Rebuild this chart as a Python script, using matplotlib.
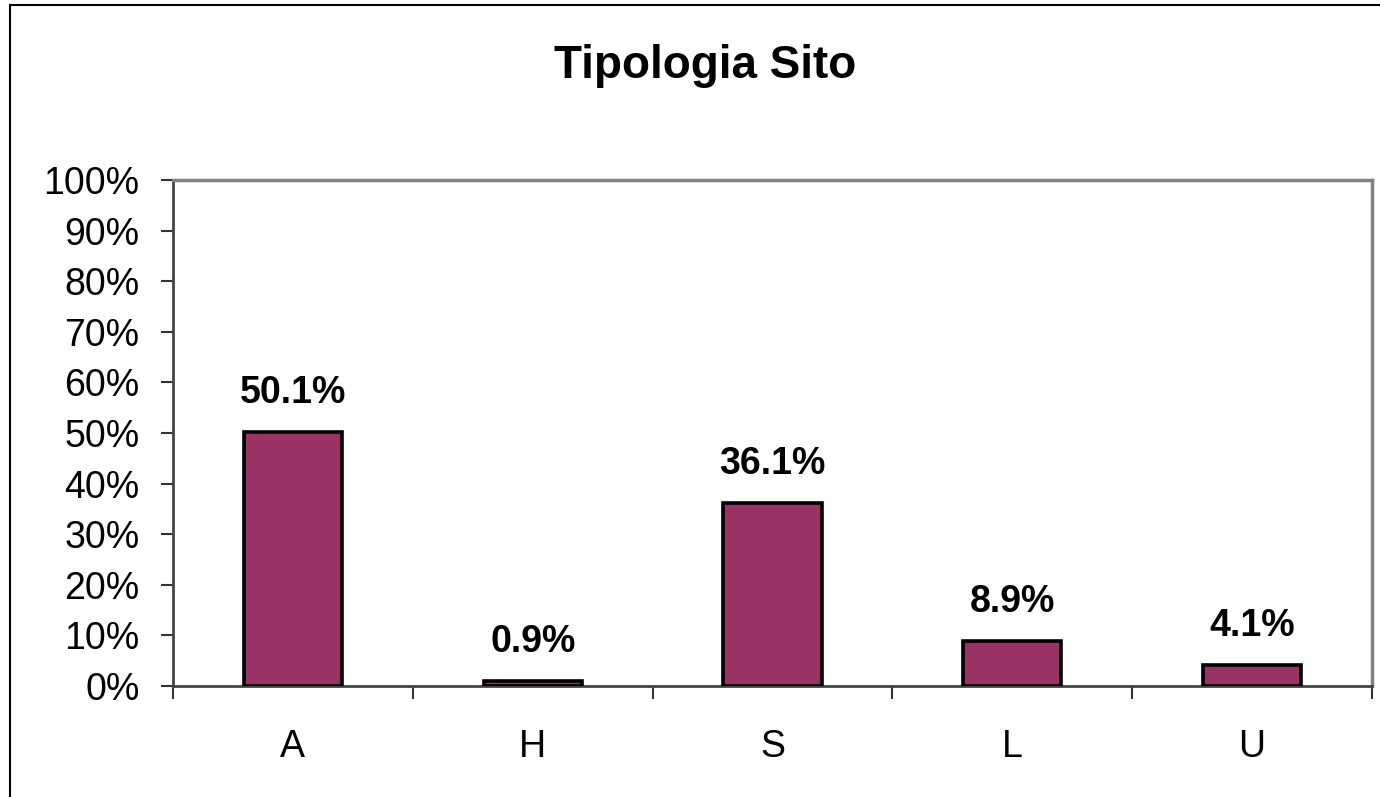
import matplotlib
matplotlib.use("Agg")
import matplotlib.pyplot as plt
from matplotlib.lines import Line2D
from matplotlib.ticker import FixedLocator, FuncFormatter

plt.rcParams['font.family'] = ['Liberation Sans', 'DejaVu Sans']

# tipologia del sito, quota sul totale
categorie = ['A', 'H', 'S', 'L', 'U']
quote = [0.501, 0.009, 0.361, 0.089, 0.041]
etichette = ['50.1%', '0.9%', '36.1%', '8.9%', '4.1%']

fig = plt.figure(figsize=(13.8, 7.97), dpi=100)
ax = fig.add_axes([173 / 1380, 1 - 686 / 797, (1372 - 173) / 1380, (686 - 180) / 797])

x = range(len(categorie))
bars = ax.bar(x, quote, width=0.41, color='#993366', edgecolor='black', linewidth=2.6, zorder=3)

for b, lab in zip(bars, etichette):
    ax.annotate(lab, (b.get_x() + b.get_width() / 2, b.get_height()),
                xytext=(0, 21), textcoords='offset points', ha='center', va='baseline',
                fontsize=27, fontweight='bold')

ax.set_xlim(-0.5, len(categorie) - 0.5)
ax.set_ylim(0, 1)

ax.set_yticks([i / 10 for i in range(11)])
ax.yaxis.set_major_formatter(FuncFormatter(lambda v, p: f"{round(v * 100)}%"))
ax.tick_params(axis='y', length=9, width=1.5, pad=15, labelsize=27, color='#333333')

# categorie al centro, tacche tra una categoria e l'altra
ax.set_xticks(list(x))
ax.set_xticklabels(categorie)
ax.xaxis.set_minor_locator(FixedLocator([i - 0.5 for i in range(len(categorie) + 1)]))
ax.tick_params(axis='x', which='major', length=0, pad=31, labelsize=27)
ax.tick_params(axis='x', which='minor', length=9, width=1.5, color='#333333')

for side in ['top', 'right']:
    ax.spines[side].set_color('#808080')
    ax.spines[side].set_linewidth(2.5)
for side in ['left', 'bottom']:
    ax.spines[side].set_color('#444444')
    ax.spines[side].set_linewidth(2)

fig.text(705 / 1380, 1 - 78 / 797, 'Tipologia Sito', ha='center', va='baseline',
         fontsize=33, fontweight='bold')

# cornice esterna del grafico
fig.add_artist(Line2D([10 / 1380, 10 / 1380], [0, 1 - 5 / 797], color='black', linewidth=1.5))
fig.add_artist(Line2D([10 / 1380, 1], [1 - 5 / 797, 1 - 5 / 797], color='black', linewidth=1.5))

fig.savefig('out.png', dpi=100)
